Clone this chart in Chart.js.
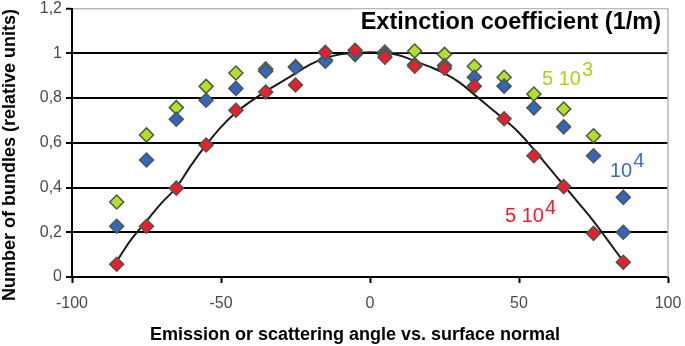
<!DOCTYPE html>
<html>
<head>
<meta charset="utf-8">
<script src="https://cdn.jsdelivr.net/npm/chart.js@4.4.1/dist/chart.umd.min.js"></script>
<style>
html,body{margin:0;padding:0;background:#fff;}
#c{display:block;}
</style>
</head>
<body>
<canvas id="c" width="685" height="346"></canvas>
<script>
// ---- data ----
const angles = [-85,-75,-65,-55,-45,-35,-25,-15,-5,5,15,25,35,45,55,65,75,85];
const ext5e3 = [0.335,0.635,0.757,0.852,0.912,0.93,0.94,0.97,0.995,1.005,1.01,0.995,0.942,0.893,0.818,0.751,0.631,0.356];
const ext1e4 = [0.227,0.523,0.705,0.79,0.843,0.92,0.937,0.964,0.995,0.995,0.95,0.945,0.893,0.853,0.756,0.671,0.542,0.2];
const ext5e4 = [0.057,0.227,0.397,0.59,0.745,0.827,0.858,1.004,1.013,0.982,0.942,0.933,0.853,0.707,0.542,0.404,0.195,0.066];
const fitAngles = [-85,-80,-75,-70,-65,-60,-55,-50,-45,-40,-35,-30,-25,-20,-15,-10,-5,0,5,10,15,20,25,30,35,40,45,50,55,60,65,70,75,80,85];
const fitValues = [0.07,0.17,0.25,0.33,0.40,0.50,0.59,0.67,0.735,0.785,0.83,0.87,0.91,0.95,0.978,0.995,1.0,1.005,1.0,0.99,0.965,0.94,0.91,0.87,0.815,0.76,0.705,0.645,0.57,0.49,0.41,0.33,0.25,0.16,0.07];
const xTicks = [-100,-50,0,50,100];
const yTicks = [0,0.2,0.4,0.6,0.8,1.0,1.2];
const chartTitle = "Extinction coefficient (1/m)";
const xTitle = "Emission or scattering angle vs. surface normal";
const yTitle = "Number of bundles (relative units)";
const seriesLabels = [
  {base:"5 10", sup:"3"},
  {base:"10", sup:"4"},
  {base:"5 10", sup:"4"}
];

const GREEN = '#b2e024', BLUE = '#3266c4', RED = '#ee1c2c';
const EDGE = '#4a5848';
const FONT = '"Liberation Sans", Arial, sans-serif';
const toPts = (xs, ys) => xs.map((x,i)=>({x:x, y:ys[i]}));

const greenColors = ext5e3.map((v,i)=> i===ext5e3.length-1 ? BLUE : GREEN);

const marker = (bg) => ({
  showLine:false, pointStyle:'rectRot', pointRadius:7, pointHoverRadius:7,
  pointBackgroundColor:bg, pointBorderColor:EDGE, pointBorderWidth:1.5
});

const zeroPad = (s) => { s.paddingTop = 0; s.paddingBottom = 0; s.paddingLeft = 0; s.paddingRight = 0; };

const overlay = {
  id:'overlay',
  beforeDatasetsDraw(chart){
    const ctx = chart.ctx, a = chart.chartArea;
    const y1 = chart.scales.y.getPixelForValue(1.0);
    ctx.save();
    // title box (markers are drawn over it)
    ctx.fillStyle = '#fff';
    ctx.fillRect(354, a.top+1, a.right-354-1, y1 - a.top - 2);
    ctx.fillStyle = '#000';
    ctx.font = 'bold 23.5px ' + FONT;
    ctx.textAlign = 'right'; ctx.textBaseline = 'middle';
    ctx.fillText(chartTitle, 661, 23);
    ctx.restore();
  },
  afterDraw(chart){
    const ctx = chart.ctx, a = chart.chartArea;
    ctx.save();
    // right border of plot
    ctx.strokeStyle = '#b8b8b8'; ctx.lineWidth = 1.5;
    ctx.beginPath(); ctx.moveTo(a.right, a.top); ctx.lineTo(a.right, a.bottom); ctx.stroke();
    // series labels
    const drawLab = (lab, x, y, supDy, color) => {
      ctx.fillStyle = color;
      ctx.textAlign = 'left'; ctx.textBaseline = 'alphabetic';
      ctx.font = '20px ' + FONT;
      ctx.fillText(lab.base, x, y);
      const w = ctx.measureText(lab.base).width;
      ctx.fillText(lab.sup, x + w + 1, y - supDy);
    };
    drawLab(seriesLabels[0], 542, 85, 9, '#a8d41c');
    drawLab(seriesLabels[1], 610, 177, 10, '#3a6cc0');
    drawLab(seriesLabels[2], 505, 222, 8, '#ee1c2c');
    // axis titles
    ctx.fillStyle = '#000';
    ctx.font = 'bold 18px ' + FONT;
    ctx.textAlign = 'center'; ctx.textBaseline = 'middle';
    ctx.fillText(xTitle, 355, 335);
    ctx.translate(10, 155); ctx.rotate(-Math.PI/2);
    ctx.fillText(yTitle, 0, 0);
    ctx.restore();
  }
};

new Chart(document.getElementById('c'), {
  type:'scatter',
  data:{
    datasets:[
      Object.assign({label:'5 10^4', data:toPts(angles, ext5e4)}, marker(RED)),
      Object.assign({label:'10^4', data:toPts(angles, ext1e4)}, marker(BLUE)),
      Object.assign({label:'5 10^3', data:toPts(angles, ext5e3)}, marker(greenColors)),
      {label:'fit', data:toPts(fitAngles, fitValues), showLine:true, pointRadius:0,
       borderColor:'#1a1a1a', borderWidth:2, tension:0.4, fill:false}
    ]
  },
  options:{
    responsive:false, animation:false, devicePixelRatio:1,
    layout:{padding:{left:0, right:17, top:7, bottom:0}},
    plugins:{legend:{display:false}, tooltip:{enabled:false}, title:{display:false}},
    scales:{
      x:{
        type:'linear', min:-100, max:100,
        afterBuildTicks(s){ s.ticks = xTicks.map(v=>({value:v})); },
        afterFit(s){ s.height = 69; zeroPad(s); },
        grid:{drawOnChartArea:false, drawTicks:true, tickLength:6, tickColor:'#000', tickWidth:2},
        border:{color:'#000', width:2},
        ticks:{color:'#4a4a4a', font:{family:FONT, size:16}, padding:11, maxRotation:0}
      },
      y:{
        type:'linear', min:0, max:1.2,
        afterBuildTicks(s){ s.ticks = yTicks.map(v=>({value:v})); },
        afterFit(s){ s.width = 72; zeroPad(s); },
        grid:{
          color:(c)=> (c.tick && c.tick.value > 1.1) ? '#b8b8b8' : '#000',
          lineWidth:(c)=> (c.tick && c.tick.value > 1.1) ? 1.5 : 2,
          drawTicks:true, tickLength:6, tickColor:'#000', tickWidth:2
        },
        border:{color:'#000', width:2},
        ticks:{color:'#4a4a4a', font:{family:FONT, size:16}, padding:4,
          callback:(v)=> Number(v.toFixed(1)).toString().replace('.', ',')}
      }
    }
  },
  plugins:[overlay]
});
</script>
</body>
</html>
